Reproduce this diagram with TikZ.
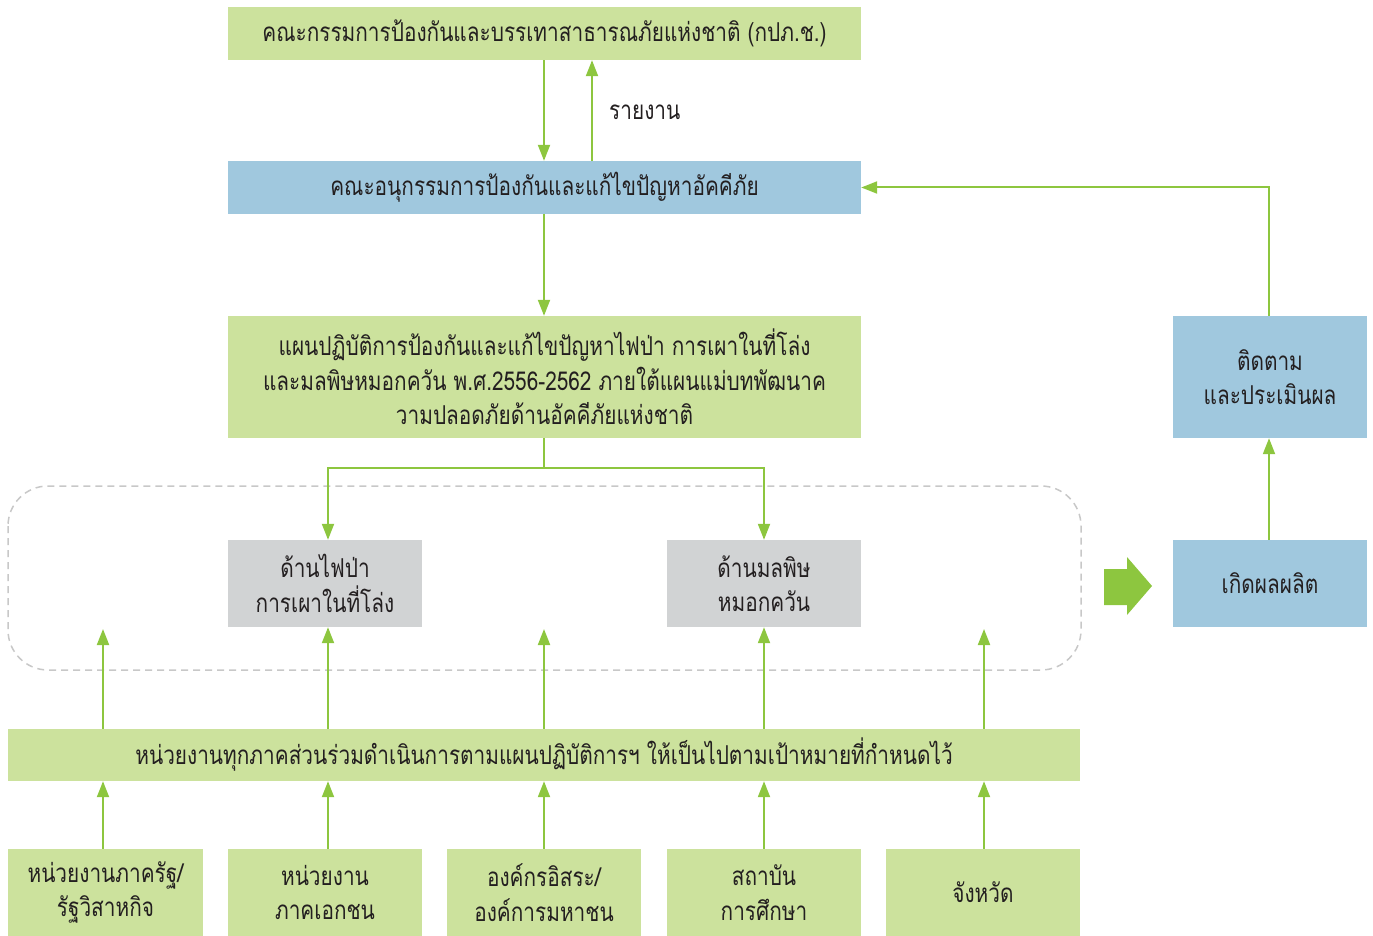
\documentclass[tikz,border=0pt]{standalone}
\usepackage{fontspec}
\setmainfont[Script=Thai,FakeStretch=0.8]{Loma}
\usetikzlibrary{arrows.meta}
\definecolor{boxgreen}{RGB}{204,226,157}
\definecolor{boxblue}{RGB}{160,200,222}
\definecolor{boxgray}{RGB}{209,211,212}
\definecolor{arrgreen}{RGB}{141,198,63}
\definecolor{txt}{RGB}{35,31,32}
\definecolor{dashgray}{RGB}{200,200,200}
\tikzset{
  box/.style={draw=none, inner sep=0pt, text=txt, align=center, font=\fontsize{26}{34.5}\selectfont},
  gbox/.style={box, fill=boxgreen},
  bbox/.style={box, fill=boxblue},
  ybox/.style={box, fill=boxgray},
  conn/.style={draw=arrgreen, line width=2pt, -{Triangle[length=16pt,width=12pt]}},
  plain/.style={draw=arrgreen, line width=2pt},
}
\begin{document}
\begin{tikzpicture}[x=1pt,y=-1pt]
\useasboundingbox (0,0) rectangle (1373,936);
% dashed group
\draw[dashgray, line width=1.5pt, dash pattern=on 7pt off 5pt, rounded corners=40pt] (8,486) rectangle (1081,670);
% boxes
\node[gbox, minimum width=633pt, minimum height=53pt] (top) at (544.5,33.5) {คณะกรรมการป้องกันและบรรเทาสาธารณภัยแห่งชาติ (กปภ.ช.)};
\node[bbox, minimum width=633pt, minimum height=53pt] (sub) at (544.5,187.5) {คณะอนุกรรมการป้องกันและแก้ไขปัญหาอัคคีภัย};
\node[gbox, minimum width=633pt, minimum height=122pt] (plan) at (544.5,377) {แผนปฏิบัติการป้องกันและแก้ไขปัญหาไฟป่า การเผาในที่โล่ง\\และมลพิษหมอกควัน พ.ศ.2556-2562 ภายใต้แผนแม่บทพัฒนาค\\วามปลอดภัยด้านอัคคีภัยแห่งชาติ};
\node[ybox, minimum width=194pt, minimum height=87pt] (fire) at (325,583.5) {ด้านไฟป่า\\การเผาในที่โล่ง};
\node[ybox, minimum width=194pt, minimum height=87pt] (smog) at (764,583.5) {ด้านมลพิษ\\หมอกควัน};
\node[gbox, minimum width=1072pt, minimum height=52pt] (bar) at (544,755) {หน่วยงานทุกภาคส่วนร่วมดำเนินการตามแผนปฏิบัติการฯ ให้เป็นไปตามเป้าหมายที่กำหนดไว้};
\node[gbox, minimum width=195pt, minimum height=87pt] (b1) at (105.5,892.5) {หน่วยงานภาครัฐ/\\รัฐวิสาหกิจ};
\node[gbox, minimum width=194pt, minimum height=87pt] (b2) at (325,892.5) {หน่วยงาน\\ภาคเอกชน};
\node[gbox, minimum width=194pt, minimum height=87pt] (b3) at (544,892.5) {องค์กรอิสระ/\\องค์การมหาชน};
\node[gbox, minimum width=194pt, minimum height=87pt] (b4) at (764,892.5) {สถาบัน\\การศึกษา};
\node[gbox, minimum width=194pt, minimum height=87pt] (b5) at (983,892.5) {จังหวัด};
\node[bbox, minimum width=194pt, minimum height=87pt] (out) at (1270,583.5) {เกิดผลผลิต};
\node[bbox, minimum width=194pt, minimum height=122pt] (eval) at (1270,377) {ติดตาม\\และประเมินผล};
\node[text=txt, font=\fontsize{26}{30}\selectfont, anchor=west, inner sep=0pt] (rep) at (609,112) {รายงาน};
% coordinates
\coordinate (j) at (544,468);
\coordinate (e1) at (103,629);
\coordinate (e3) at (544,629);
\coordinate (e5) at (984,629);
% connectors
\draw[conn] (top.south -| 544,0) -- (sub.north -| 544,0);
\draw[conn] (sub.north -| 592,0) -- (top.south -| 592,0);
\draw[conn] (sub.south -| 544,0) -- (plan.north -| 544,0);
\draw[plain] (plan.south -| 544,0) -- (j);
\draw[conn] (j) -| (fire.north -| 328,0);
\draw[conn] (j) -| (smog.north);
\draw[conn] (bar.north -| 103,0) -- (e1);
\draw[conn] (bar.north -| 328,0) -- (fire.south -| 328,0);
\draw[conn] (bar.north -| 544,0) -- (e3);
\draw[conn] (bar.north -| 764,0) -- (smog.south);
\draw[conn] (bar.north -| 984,0) -- (e5);
\draw[conn] (b1.north -| 103,0) -- (bar.south -| 103,0);
\draw[conn] (b2.north -| 328,0) -- (bar.south -| 328,0);
\draw[conn] (b3.north) -- (bar.south -| 544,0);
\draw[conn] (b4.north) -- (bar.south -| 764,0);
\draw[conn] (b5.north -| 984,0) -- (bar.south -| 984,0);
\draw[conn] (out.north -| 1269,0) -- (eval.south -| 1269,0);
\draw[conn] (eval.north -| 1269,0) |- (sub.east);
% big arrow
\fill[arrgreen] (1104,569) -- (1127,569) -- (1127,557) -- (1152,586) -- (1127,615) -- (1127,605) -- (1104,605) -- cycle;
\end{tikzpicture}
\end{document}
